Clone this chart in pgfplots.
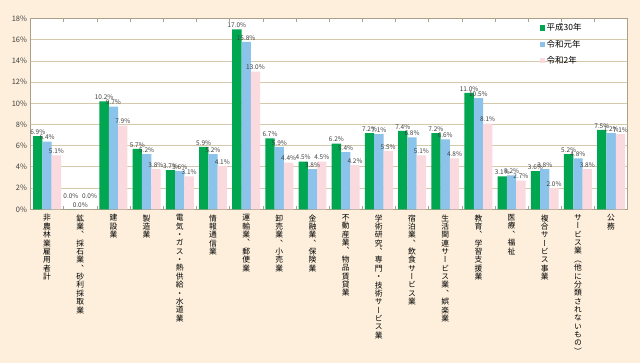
\documentclass[border=0pt]{standalone}
\usepackage{fontspec}
\setmainfont{Noto Sans CJK JP}
\newfontfamily\tatefont[RawFeature=+vert]{Noto Sans CJK JP}
\usepackage{pgfplots}
\usepackage{pgfplotstable}
\pgfplotsset{compat=1.18}
\definecolor{bgc}{RGB}{253,239,220}
\definecolor{gcol}{RGB}{0,166,80}
\definecolor{bcol}{RGB}{140,195,234}
\definecolor{pcol}{RGB}{250,218,222}
\definecolor{gridc}{RGB}{214,200,172}
\definecolor{txt}{RGB}{64,64,64}
\pgfplotstableread{
x g b p
0 6.9 6.4 5.1
1 0.0 0.0 0.0
2 10.2 9.7 7.9
3 5.7 5.2 3.8
4 3.7 3.6 3.1
5 5.9 5.2 4.1
6 17.0 15.8 13.0
7 6.7 5.9 4.4
8 4.5 3.8 4.5
9 6.2 5.4 4.2
10 7.2 7.1 5.5
11 7.4 6.8 5.1
12 7.2 6.6 4.8
13 11.0 10.5 8.1
14 3.1 3.2 2.7
15 3.6 3.8 2.0
16 5.2 4.8 3.8
17 7.5 7.2 7.1
}\datatable
\begin{document}
\begin{tikzpicture}[x=1bp,y=1bp]
\fill[bgc] (0,0) rectangle (640,363);
\useasboundingbox (0,0) rectangle (640,363);
\begin{axis}[
  at={(30.5bp,153.7bp)}, anchor=south west,
  width=597.2bp, height=190.6bp, scale only axis,
  axis background/.style={fill=white},
  ybar=0pt, bar width=9.3bp,
  xmin=-0.5, xmax=17.5, ymin=0, ymax=18,
  ytick={0,2,...,18},
  yticklabel={\pgfmathprintnumber{\tick}\%},
  /pgf/number format/assume math mode=true,
  yticklabel style={font=\fontsize{7.5}{8}\selectfont, text=txt},
  ymajorgrids, grid style={gridc, line width=1pt},
  major y tick style={draw=none},
  xtick={0,...,17},
  major x tick style={draw=none},
  minor xtick={-0.5,0.5,...,17.5},
  minor x tick style={draw=gridc!80!black, line width=0.5pt},
  minor tick length=3bp,
  tick align=inside,
  axis line style={draw=gridc!80!black, line width=0.6pt},
  xticklabels={
    {非\\農\\林\\業\\雇\\用\\者\\計},
    {鉱\\業\\、\\採\\石\\業\\、\\砂\\利\\採\\取\\業},
    {建\\設\\業},
    {製\\造\\業},
    {電\\気\\・\\ガ\\ス\\・\\熱\\供\\給\\・\\水\\道\\業},
    {情\\報\\通\\信\\業},
    {運\\輸\\業\\、\\郵\\便\\業},
    {卸\\売\\業\\、\\小\\売\\業},
    {金\\融\\業\\、\\保\\険\\業},
    {不\\動\\産\\業\\、\\物\\品\\賃\\貸\\業},
    {学\\術\\研\\究\\、\\専\\門\\・\\技\\術\\サ\\ー\\ビ\\ス\\業},
    {宿\\泊\\業\\、\\飲\\食\\サ\\ー\\ビ\\ス\\業},
    {生\\活\\関\\連\\サ\\ー\\ビ\\ス\\業\\、\\娯\\楽\\業},
    {教\\育\\、\\学\\習\\支\\援\\業},
    {医\\療\\、\\福\\祉},
    {複\\合\\サ\\ー\\ビ\\ス\\事\\業},
    {サ\\ー\\ビ\\ス\\業\\（\\他\\に\\分\\類\\さ\\れ\\な\\い\\も\\の\\）},
    {公\\務}},
  xticklabel style={align=center, anchor=north, inner sep=0pt, yshift=-5bp,
    font=\tatefont\fontsize{7.8}{8.4}\selectfont, text=black},
  nodes near coords={\pgfmathprintnumber[fixed,fixed zerofill,precision=1]{\pgfplotspointmeta}\%},
  every node near coord/.append style={font=\fontsize{6.5}{7}\selectfont, text=txt, inner sep=1.5bp},
  visualization depends on={y \as \yv},
  legend style={at={(0.852,0.985)}, anchor=north west, draw=none, fill=none,
    font=\fontsize{8.5}{9}\selectfont, row sep=3.5bp, inner sep=0pt},
  legend cell align=left,
  legend image code/.code={\fill[#1] (0bp,-2.6bp) rectangle (5.2bp,2.6bp);},
]
\addplot[fill=gcol, draw=none,
  every node near coord/.append style={yshift={(\yv==0)*9}}] table[x=x,y=g]{\datatable};
\addplot[fill=bcol, draw=none] table[x=x,y=b]{\datatable};
\addplot[fill=pcol, draw=none,
  every node near coord/.append style={yshift={(\yv==0)*9}}] table[x=x,y=p]{\datatable};
\legend{平成30年,令和元年,令和2年}
\end{axis}
\end{tikzpicture}
\end{document}
